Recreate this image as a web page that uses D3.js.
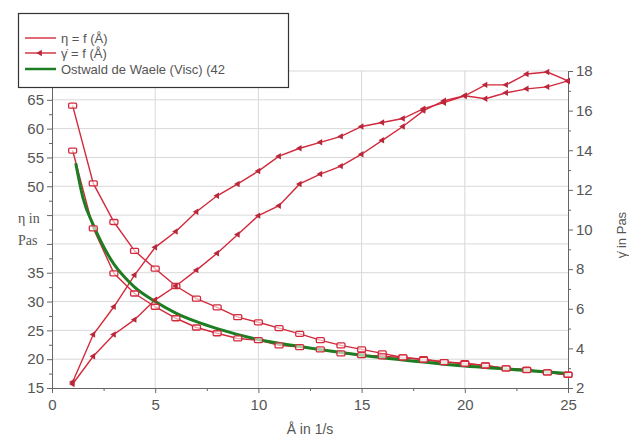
<!DOCTYPE html>
<html><head><meta charset="utf-8">
<script src="https://cdn.jsdelivr.net/npm/d3@7"></script>
<style>body{margin:0;background:#fff}svg{display:block}text{font-family:"Liberation Sans",Arial,sans-serif}</style>
</head><body>
<svg id="c" width="629" height="441"></svg>
<script>
const rates = d3.range(1, 26);
const etaUp = [64, 50.5, 43.8, 38.8, 35.7, 32.7, 30.5, 29.0, 27.3, 26.4, 25.4, 24.4, 23.3, 22.4, 21.7, 21.0, 20.3, 20.0, 19.5, 19.3, 18.9, 18.4, 18.2, 17.7, 17.3];
const etaDown = [56.2, 42.7, 34.9, 31.4, 29.1, 27.1, 25.5, 24.5, 23.6, 23.3, 22.4, 22.1, 21.7, 21.0, 20.7, 20.5, 20.3, 19.9, 19.5, 19.2, 18.9, 18.4, 18.1, 17.7, 17.3];
const tauA = [2.3, 4.7, 6.1, 7.7, 9.1, 9.9, 10.9, 11.7, 12.3, 12.95, 13.7, 14.1, 14.4, 14.7, 15.2, 15.4, 15.6, 16.1, 16.4, 16.75, 17.3, 17.3, 17.85, 17.95, 17.5];
const tauB = [2.2, 3.6, 4.7, 5.45, 6.45, 7.15, 7.95, 8.8, 9.75, 10.7, 11.2, 12.3, 12.8, 13.2, 13.8, 14.5, 15.2, 16.0, 16.5, 16.75, 16.6, 16.9, 17.1, 17.2, 17.5];
const fitX = [1.15, 1.5, 2, 2.5, 3, 3.5, 4, 5, 6, 7, 8, 10, 12, 15, 18, 20, 22, 25];
const fitY = [54, 48, 43.3, 39.5, 36.5, 34.3, 32.5, 30, 28, 26.5, 25.3, 23.4, 22.2, 20.7, 19.5, 18.8, 18.3, 17.5];
const xTicks = [0, 5, 10, 15, 20, 25];
const yLeftTicks = [15, 20, 25, 30, 35, 40, 45, 50, 55, 60, 65];
const yLeftLabels = [15, 20, 25, 30, 35, 50, 55, 60, 65];
const yRightTicks = [2, 4, 6, 8, 10, 12, 14, 16, 18];
const legendItems = ["η = f (Å)", "γ̇ = f (Å)", "Ostwald de Waele (Visc) (42"];

const svg = d3.select("#c");
const L = 52, R = 568, T = 71, B = 388;
const x = d3.scaleLinear().domain([0, 25]).range([L, R]);
const yL = d3.scaleLinear().domain([15, 70]).range([B, T]);
const yR = d3.scaleLinear().domain([2, 18]).range([B, T]);
const red = "#d22a3c", axisC = "#666", txtC = "#555";

// grid
const g = svg.append("g");
g.selectAll(".gx").data(xTicks.slice(1, -1)).join("line")
  .attr("x1", d => x(d)).attr("x2", d => x(d)).attr("y1", T).attr("y2", B)
  .attr("stroke", "#d8d8d8");
g.selectAll(".gy").data(yLeftTicks.slice(1).concat([70])).join("line")
  .attr("x1", L).attr("x2", R).attr("y1", d => yL(d)).attr("y2", d => yL(d))
  .attr("stroke", "#d8d8d8");

// axes
const xAx = svg.append("g").attr("transform", `translate(0,${B})`)
  .call(d3.axisBottom(x).tickValues(xTicks).tickSize(5).tickPadding(6));
const xMinor = svg.append("g").attr("transform", `translate(0,${B})`)
  .call(d3.axisBottom(x).tickValues([2.5, 7.5, 12.5, 17.5, 22.5]).tickSize(3).tickFormat(""));
const yAx = svg.append("g").attr("transform", `translate(${L},0)`)
  .call(d3.axisLeft(yL).tickValues(yLeftTicks).tickSize(5).tickPadding(3)
    .tickFormat(d => yLeftLabels.includes(d) ? d : ""));
const yMinor = svg.append("g").attr("transform", `translate(${L},0)`)
  .call(d3.axisLeft(yL).tickValues(d3.range(17.5, 70, 5)).tickSize(3).tickFormat(""));
const yrAx = svg.append("g").attr("transform", `translate(${R},0)`)
  .call(d3.axisRight(yR).tickValues(yRightTicks).tickSize(5).tickPadding(3));
const yrMinor = svg.append("g").attr("transform", `translate(${R},0)`)
  .call(d3.axisRight(yR).tickValues(d3.range(3, 18, 2)).tickSize(3).tickFormat(""));
[xAx, xMinor, yAx, yMinor, yrAx, yrMinor].forEach(a => {
  a.select(".domain").attr("stroke", axisC);
  a.selectAll(".tick line").attr("stroke", axisC);
  a.selectAll("text").attr("fill", txtC).style("font-size", "15px").style("font-family", "Liberation Sans, Arial, sans-serif");
});
xMinor.select(".domain").remove(); yMinor.select(".domain").remove(); yrMinor.select(".domain").remove();

// lines
const lineL = d3.line().x((d, i) => x(rates[i])).y(d => yL(d));
const lineR = d3.line().x((d, i) => x(rates[i])).y(d => yR(d));
[etaUp, etaDown].forEach(s => {
  svg.append("path").attr("d", lineL(s)).attr("fill", "none").attr("stroke", red).attr("stroke-width", 1.4);
});
[tauA, tauB].forEach(s => {
  svg.append("path").attr("d", lineR(s)).attr("fill", "none").attr("stroke", red).attr("stroke-width", 1.4);
});
// fit
const fitLine = d3.line().x((d, i) => x(fitX[i])).y(d => yL(d)).curve(d3.curveMonotoneX);
svg.append("path").attr("d", fitLine(fitY)).attr("fill", "none").attr("stroke", "#1d7d22").attr("stroke-width", 3);

// markers
[etaUp, etaDown].forEach(s => {
  svg.append("g").selectAll("rect").data(s).join("rect")
    .attr("x", (d, i) => x(rates[i]) - 4).attr("y", d => yL(d) - 2.5)
    .attr("width", 8).attr("height", 5).attr("rx", 1.2)
    .attr("fill", "#fff").attr("fill-opacity", 0.6).attr("stroke", red).attr("stroke-width", 1.3);
});
const tri = d3.symbol().type(d3.symbolTriangle).size(18);
[tauA, tauB].forEach(s => {
  svg.append("g").selectAll("path").data(s).join("path")
    .attr("d", tri)
    .attr("transform", (d, i) => `translate(${x(rates[i])},${yR(d)}) rotate(-90)`)
    .attr("fill", "#b8283a");
});

// legend
const lg = svg.append("g");
lg.append("rect").attr("x", 18.5).attr("y", 13.5).attr("width", 270).attr("height", 74)
  .attr("fill", "#fff").attr("stroke", "#333").attr("stroke-width", 1.2);
svg.append("clipPath").attr("id", "lgclip").append("rect")
  .attr("x", 18).attr("y", 13).attr("width", 269).attr("height", 74);
const rowsY = [38, 53, 69];
legendItems.forEach((t, i) => {
  const yy = rowsY[i];
  lg.append("line").attr("x1", 25).attr("x2", 56).attr("y1", yy).attr("y2", yy)
    .attr("stroke", i === 2 ? "#1d7d22" : red).attr("stroke-width", i === 2 ? 2.5 : 1.4);
  if (i === 1) lg.append("path").attr("d", tri).attr("transform", `translate(40,${yy}) rotate(-90)`).attr("fill", "#b8283a");
  lg.append("text").attr("x", 61).attr("y", yy + 4.5).text(t)
    .attr("fill", txtC).style("font-size", "13px").attr("clip-path", "url(#lgclip)");
});

// axis titles
svg.append("text").attr("x", x(12.5)).attr("y", 434).attr("text-anchor", "middle")
  .attr("fill", txtC).style("font-size", "14px").text("Å in 1/s");
const lt = svg.append("text").attr("fill", txtC).style("font-size", "14px").style("font-family", "Liberation Serif, serif");
lt.append("tspan").attr("x", 18).attr("y", 223).text("η in");
lt.append("tspan").attr("x", 18).attr("y", 245).text("Pas");
svg.append("text").attr("transform", "translate(626,235) rotate(-90)").attr("text-anchor", "middle")
  .attr("fill", txtC).style("font-size", "13px").text("γ̇ in Pas");
</script>
</body></html>
